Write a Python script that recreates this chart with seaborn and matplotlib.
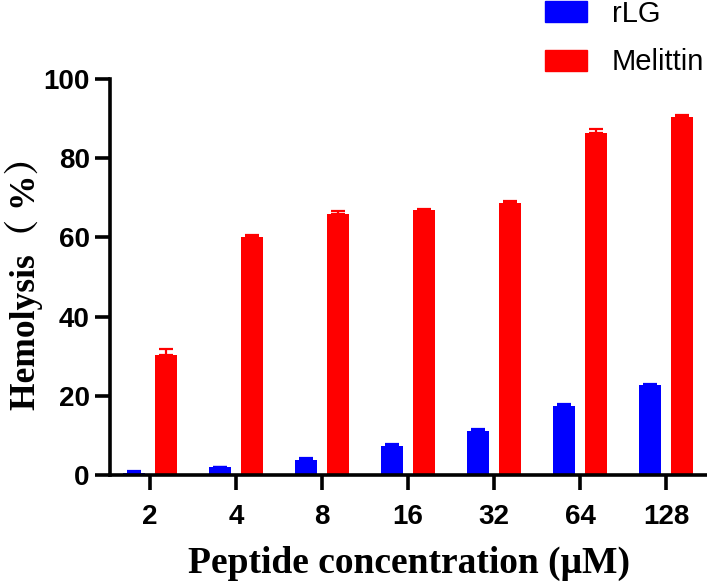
import numpy as np
import pandas as pd
import matplotlib
matplotlib.use("Agg")
import matplotlib.pyplot as plt
import seaborn as sns

# 数据
concentrations = ["2", "4", "8", "16", "32", "64", "128"]
rlg_mean = [0.6, 2.0, 3.9, 7.2, 11.2, 17.4, 22.7]
rlg_err = [0.4, 0.1, 0.5, 0.6, 0.5, 0.5, 0.3]
melittin_mean = [30.3, 60.0, 65.8, 66.8, 68.8, 86.3, 90.5]
melittin_err = [1.5, 0.6, 0.8, 0.4, 0.4, 1.1, 0.5]
groups = ["rLG", "Melittin"]
colors = ["#0000FF", "#FF0000"]

df = pd.DataFrame({
    "conc": concentrations * 2,
    "group": [groups[0]] * 7 + [groups[1]] * 7,
    "value": rlg_mean + melittin_mean,
    "err": rlg_err + melittin_err,
})

sns.set_style("ticks")
plt.rcParams["font.family"] = ["Liberation Sans", "DejaVu Sans"]
plt.rcParams["text.color"] = "black"
plt.rcParams["axes.labelcolor"] = "black"

fig = plt.figure(figsize=(7.07, 5.84), dpi=100)
ax = fig.add_axes([110 / 707, 109 / 584, 597 / 707, 396 / 584])

sns.barplot(data=df, x="conc", y="value", hue="group", order=concentrations,
            hue_order=groups, palette=colors, saturation=1, errorbar=None,
            width=0.744, gap=0.34, linewidth=0, ax=ax, legend=False)

# 误差线（仅向上）
for container, g, c in zip(ax.containers, groups, colors):
    sub = df[df["group"] == g]
    xs = [p.get_x() + p.get_width() / 2 for p in container.patches]
    ys = sub["value"].values
    errs = sub["err"].values
    ax.errorbar(xs, ys, yerr=[np.zeros_like(errs), errs], fmt="none",
                ecolor=c, elinewidth=1.6, capsize=5, capthick=1.6)

ax.set_xlim(-0.465, 6.477)
ax.set_ylim(0, 100)
ax.set_yticks([0, 20, 40, 60, 80, 100])

for side in ["top", "right"]:
    ax.spines[side].set_visible(False)
for side in ["left", "bottom"]:
    ax.spines[side].set_linewidth(2.6)
    ax.spines[side].set_color("black")

ax.tick_params(axis="both", length=11, width=2.6, color="black",
               labelsize=20, labelcolor="black")
ax.tick_params(axis="x", pad=10)
ax.tick_params(axis="y", pad=3.5)
for lab in ax.get_xticklabels() + ax.get_yticklabels():
    lab.set_fontweight("bold")

ax.set_xlabel("Peptide concentration (μM)", fontsize=27, fontweight="bold",
              family=["Liberation Serif", "DejaVu Serif"])
ax.xaxis.set_label_coords(0.5, -0.18)
ax.set_ylabel("Hemolysis（ %）", fontsize=25.5, fontweight="bold",
              family=["Liberation Serif", "Noto Serif CJK SC", "Noto Sans CJK SC"])
ax.yaxis.set_label_coords(-0.112, 0.505)

handles = [plt.Rectangle((0, 0), 1, 1, color=c) for c in colors]
fig.legend(handles, groups, loc="upper left", bbox_to_anchor=(545 / 707, 1.0),
           frameon=False, fontsize=21, handlelength=1.45, handleheight=0.72,
           handletextpad=0.85, labelspacing=0.7, borderpad=0.0,
           borderaxespad=0)

fig.savefig("out.png", dpi=100)
